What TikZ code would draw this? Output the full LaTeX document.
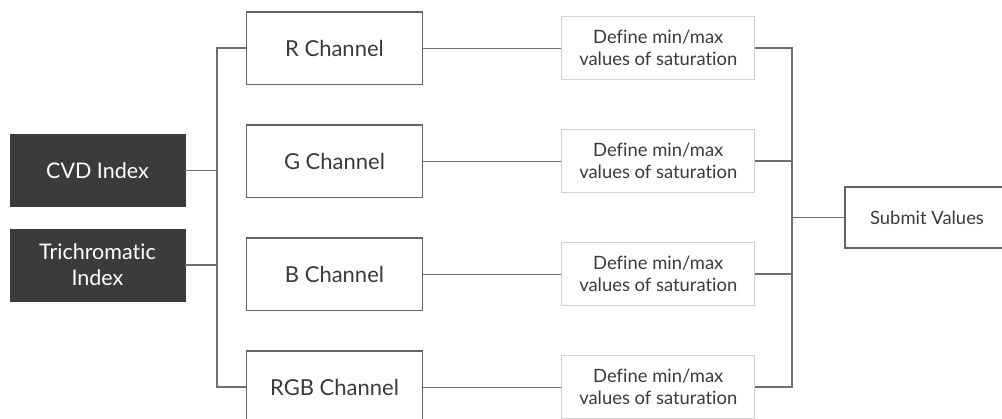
\documentclass[tikz,border=0pt]{standalone}
\usepackage{fontspec}
\setmainfont{Lato}[Ligatures=NoCommon]
\usetikzlibrary{positioning}
\definecolor{darkbox}{HTML}{3C3B39}
\definecolor{boxline}{HTML}{646464}
\definecolor{lightline}{HTML}{D2D2D2}
\definecolor{linegray}{HTML}{6E6E6E}
\definecolor{textgray}{HTML}{3A3A3A}
\begin{document}
\begin{tikzpicture}[
  x=1pt, y=-1pt,
  node distance=39pt and 138pt,
  index/.style={fill=darkbox, draw=darkbox, text=white, align=center,
    minimum width=175pt, minimum height=72pt, font=\fontsize{21.5}{26}\selectfont},
  channel/.style={draw=boxline, line width=1.5pt, text=textgray,
    minimum width=176pt, minimum height=72.5pt, font=\fontsize{22}{26}\selectfont},
  define/.style={draw=lightline, line width=1pt, text=textgray, align=center,
    minimum width=193pt, minimum height=63.5pt, font=\fontsize{18.4}{22}\selectfont},
  link/.style={draw=linegray, line width=1.3pt}
]
\useasboundingbox (0,0) rectangle (1002,418);
% channels
\node[channel] (rch) at (334.5,48) {R Channel};
\node[channel, below=of rch] (gch) {G Channel};
\node[channel, below=of gch] (bch) {B Channel};
\node[channel, below=of bch] (rgbch) {RGB Channel};
% saturation limits
\node[define, right=of rch] (rdef) {Define min/max\\values of saturation};
\node[define, right=of gch] (gdef) {Define min/max\\values of saturation};
\node[define, right=of bch] (bdef) {Define min/max\\values of saturation};
\node[define, right=of rgbch] (rgbdef) {Define min/max\\values of saturation};
% inputs and output
\node[index] (cvd) at (97.5,170.5) {CVD Index};
\node[index, below=22pt of cvd] (tri) {Trichromatic\\Index};
\node[channel, minimum width=164pt, minimum height=61pt,
  font=\fontsize{18.4}{22}\selectfont] (submit) at (927,217.5) {Submit Values};
\coordinate (lbus) at (217,48);
\coordinate (rbus) at (792,48);
% left bracket
\draw[link] (rch.west) -| (lbus |- rgbch.west) -- (rgbch.west);
\draw[link] (cvd.east) -- (cvd.east -| lbus);
\draw[link] (tri.east) -- (tri.east -| lbus);
% channel to limits
\foreach \c in {r,g,b,rgb}
  \draw[link, line width=1pt] (\c ch.east) -- (\c def.west);
% right bracket
\draw[link] (rdef.east) -| (rbus |- rgbdef.east) -- (rgbdef.east);
\draw[link] (gdef.east) -- (gdef.east -| rbus);
\draw[link] (bdef.east) -- (bdef.east -| rbus);
\draw[link] (submit.west) -- (submit.west -| rbus);
\end{tikzpicture}
\end{document}
